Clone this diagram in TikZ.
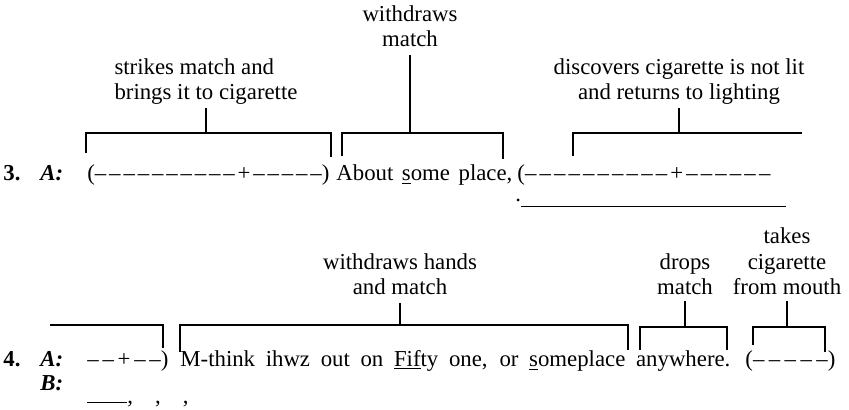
\documentclass[tikz,border=0pt]{standalone}
\usepackage{fontspec}
\setmainfont{Liberation Serif}

\newcommand{\beats}[1]{\foreach \n in {1,...,#1}{\hfill--}}

\tikzset{
	gesture/.style={align=center, inner sep=0pt, text depth=0pt, anchor=south},
	speech/.style={inner sep=0pt, anchor=base west},
	bracket/.style={line width=0.9pt}
}

\begin{document}
\begin{tikzpicture}[x=0.5pt, y=-0.5pt, font=\fontsize{11.4}{12.8}\selectfont]
		\useasboundingbox (0,0) rectangle (849,409);

		% Line 3 -- speech
		\node[speech] (num3) at (3,180) {\textbf{3.}};
		\node[speech] (spkA3) at (40,180) {\textbf{\textit{A:}}};
		\node[speech] (pause3a) at (87,180) {\makebox[121pt]{(--\beats{9}\hfill+\beats{5})}};
		\node[speech] (talk3) at (336,180) {\makebox[88pt][s]{About \underline{s}ome place,}};
		\node[speech] (pause3b) at (517,180) {\makebox[126.5pt]{(--\beats{9}\hfill+\beats{6}}};
		\node[speech] (gap3) at (515,207) {\raisebox{3pt}{.}\rule{132.5pt}{0.7pt}};

		% Line 3 -- gestures
		\node[gesture, align=left] (strike) at (206,100) {strikes match and\\brings it to cigarette};
		\node[gesture] (withdraw) at (410,47) {withdraws\\match};
		\node[gesture] (discover) at (679,100) {discovers cigarette is not lit\\and returns to lighting};

		% -- brackets
		\draw[bracket] (86,153) |- (331,133) -- (331,157);
		\draw[bracket] ([yshift=-4pt]strike.south) -- (strike.south |- 0,133);
		\draw[bracket] (342,156) |- (503,133) -- (503,159);
		\draw[bracket] ([yshift=-4pt]withdraw.south) -- (withdraw.south |- 0,133);
		\draw[bracket] (573,156) |- (802,133);
		\draw[bracket] ([yshift=-4pt]discover.south) -- (discover.south |- 0,133);

		% Line 4 -- speech
		\node[speech] (num4) at (3,366) {\textbf{4.}};
		\node[speech] (spkA4) at (40,366) {\textbf{\textit{A:}}};
		\node[speech] (pause4a) at (87,366) {\makebox[40.5pt]{--\beats{1}\hfill+\beats{2})}};
		\node[speech] (talk4) at (180,366) {\makebox[275pt][s]{M-think ihwz out on \underline{Fif}ty one, or \underline{s}omeplace anywhere.}};
		\node[speech] (pause4b) at (745,366) {\makebox[45pt]{(--\beats{4})}};
		\node[speech] (spkB4) at (40,390) {\textbf{\textit{B:}}};
		\node[speech] (gap4) at (87,403) {\rule{20pt}{0.7pt},\hspace{11pt},\hspace{11pt},};

		% Line 4 -- gestures
		\node[gesture] (hands) at (400,295) {withdraws hands\\and match};
		\node[gesture] (drops) at (685,295) {drops\\match};
		\node[gesture] (takes) at (787,295) {takes\\cigarette\\from mouth};

		% -- brackets
		\draw[bracket] (50,325) -| (163,348);
		\draw[bracket] (180,352) |- (628,325) -- (628,350);
		\draw[bracket] ([yshift=-4pt]hands.south) -- (hands.south |- 0,325);
		\draw[bracket] (640,350) |- (727,327) -- (727,350);
		\draw[bracket] ([yshift=-3pt]drops.south) -- (drops.south |- 0,327);
		\draw[bracket] (753,345) |- (825,327) -- (825,352);
		\draw[bracket] ([yshift=-3pt]takes.south) -- (takes.south |- 0,327);
	\end{tikzpicture}
\end{document}
